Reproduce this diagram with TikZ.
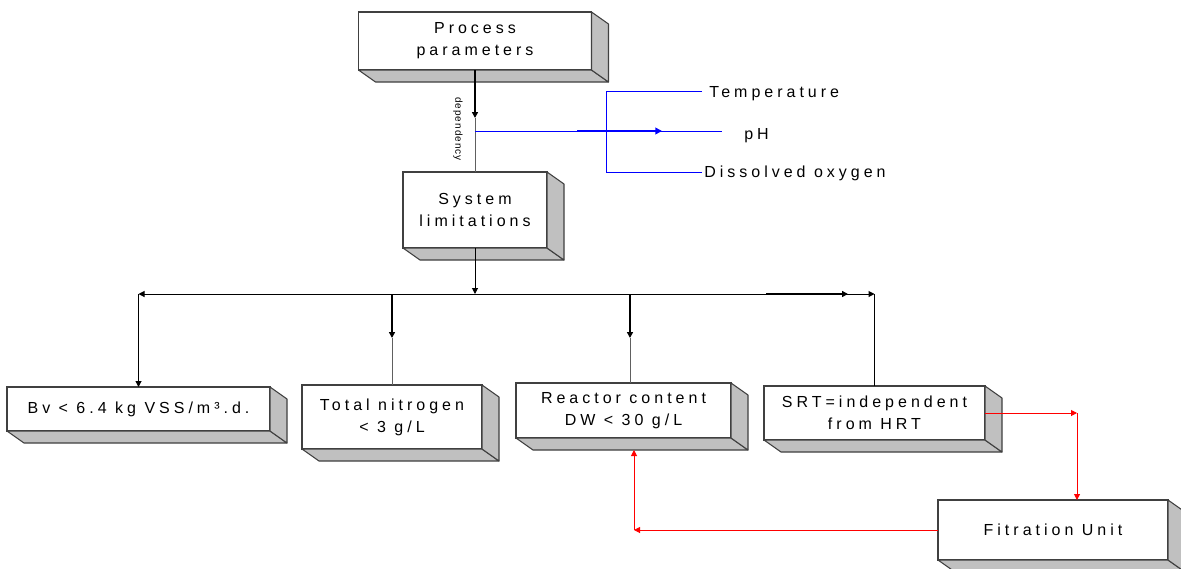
\documentclass[tikz,border=0pt]{standalone}
\usepackage{fontspec}
\usetikzlibrary{arrows.meta}
\newfontfamily\lsp[LetterSpace=25]{Liberation Sans}
\newfontfamily\depfont[LetterSpace=10]{Liberation Sans}
\definecolor{facegray}{HTML}{C0C0C0}
\definecolor{edgegray}{HTML}{404040}
\definecolor{linegray}{HTML}{606060}
\tikzset{
  wh/.style 2 args={minimum width={#1*0.75pt},minimum height={#2*0.75pt}},
  box/.style={draw=edgegray,line width=0.8pt,fill=white,inner sep=0pt,outer sep=0pt,
    align=center,font=\lsp\fontsize{12}{16.5}\selectfont},
  face/.style={draw=edgegray,line width=0.8pt,fill=facegray,line join=round},
  tri/.tip={Triangle[length=4.5pt,width=4.5pt]},
  conn/.style={draw=black,line width=0.75pt},
  thickconn/.style={draw=black,line width=1.3pt},
  grayconn/.style={draw=linegray,line width=0.75pt},
  blueconn/.style={draw=blue,line width=0.75pt},
  bluethick/.style={draw=blue,line width=1.4pt},
  redconn/.style={draw=red,line width=0.75pt},
  lbl/.style={inner sep=0pt,font=\lsp\fontsize{12}{16}\selectfont},
}
\newcommand\extrude[1]{%
  \filldraw[face] (#1.south west) -- (#1.south east) -- ([shift={(17,12)}]#1.south east) -- ([shift={(17,12)}]#1.south west) -- cycle;
  \filldraw[face] (#1.north east) -- ([shift={(17,12)}]#1.north east) -- ([shift={(17,12)}]#1.south east) -- (#1.south east) -- cycle;}
\begin{document}
\begin{tikzpicture}[x=0.75pt,y=-0.75pt]
\useasboundingbox (0,0) rectangle (1181,568);
% boxes
\node[box,wh={233}{58}] (proc) at (475,41) {Process\\parameters};
\node[box,wh={144}{76}] (sys) at (475,210) {System\\limitations};
\node[box,wh={263}{44}] (bv) at (138.5,409) {Bv {<} 6.4 kg VSS/m³.d.};
\node[box,wh={180}{64}] (tn) at (392,417) {Total nitrogen\\{<} 3 g/L};
\node[box,wh={215}{55}] (rc) at (623.5,410.5) {Reactor content\\DW {<} 30 g/L};
\node[box,wh={221}{54}] (srt) at (874.5,413) {SRT=independent\\from HRT};
\node[box,wh={230}{60}] (fil) at (1053,530) {Fitration Unit};
\extrude{proc}\extrude{sys}\extrude{bv}\extrude{tn}\extrude{rc}\extrude{srt}\extrude{fil}
% dependency
\coordinate (d1) at (475,118);
\draw[thickconn,-tri] (proc.south) -- (d1);
\draw[grayconn] (d1) -- (sys.north);
\node[rotate=-90,inner sep=0pt,font=\depfont\fontsize{7.5}{8}\selectfont] (dep) at (458,129) {dependency};
% blue
\coordinate (b0) at (475,131);
\coordinate (b1) at (722,131);
\coordinate (b2) at (577,131);
\coordinate (b3) at (662,131);
\coordinate (bt) at (702,91);
\coordinate (btc) at (606,91);
\coordinate (bbc) at (606,172);
\coordinate (bb) at (702,172);
\draw[blueconn] (b0) -- (b1);
\draw[bluethick,-{Triangle[length=5pt,width=5pt]}] (b2) -- (b3);
\draw[blueconn] (bt) -- (btc) -- (bbc) -- (bb);
\node[lbl,anchor=base west] (temp) at (709,97.5) {Temperature};
\node[lbl,anchor=base west] (ph) at (744,139) {pH};
\node[lbl,anchor=base west] (dox) at (704,177.5) {Dissolved oxygen};
% distribution
\coordinate (hub) at (475,294);
\coordinate (L) at (138.5,294);
\coordinate (R) at (874.5,294);
\coordinate (R0) at (766,294);
\coordinate (R1) at (848,294);
\coordinate (t1) at (392,294);
\coordinate (t2) at (392,338);
\coordinate (r1) at (630,294);
\coordinate (r2) at (630,338);
\draw[conn,-tri] (sys.south) -- (hub);
\draw[conn,-tri] (hub) -- (L);
\draw[conn,-tri] (L) -- (bv.north);
\draw[conn,-tri] (hub) -- (R);
\draw[thickconn,-tri] (R0) -- (R1);
\draw[conn] (R) -- (srt.north);
\draw[thickconn,-tri] (t1) -- (t2);
\draw[grayconn] (t2) -- (tn.north);
\draw[thickconn,-tri] (r1) -- (r2);
\draw[grayconn] (r2) -- (r2 |- rc.north);
% red loop
\coordinate (s1) at (1077,413);
\coordinate (f1) at (634,530);
\coordinate (f2) at (634,450);
\draw[redconn,-tri] (srt.east) -- (s1);
\draw[redconn,-tri] (s1) -- (s1 |- fil.north);
\draw[redconn,-tri] (fil.west) -- (f1);
\draw[redconn,-tri] (f1) -- (f2);
\end{tikzpicture}
\end{document}
